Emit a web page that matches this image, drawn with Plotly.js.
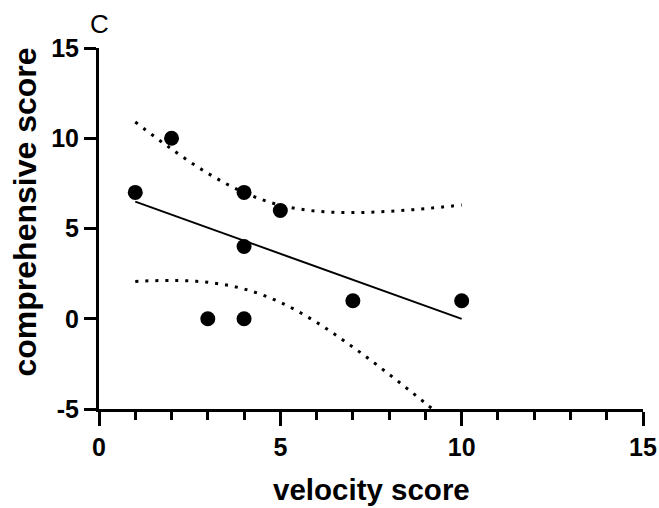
<!DOCTYPE html>
<html>
<head>
<meta charset="utf-8">
<script src="https://cdn.plot.ly/plotly-3.0.1.min.js"></script>
<style>html,body{margin:0;padding:0;background:#fff;}#chart{width:659px;height:508px;}</style>
</head>
<body>
<div id="chart"></div>
<script>
// observed data points
const velocity = [1, 2, 3, 4, 4, 4, 5, 7, 10];
const comprehensive = [7, 10, 0, 7, 4, 0, 6, 1, 1];
// fitted regression line (read endpoints)
const fitX = [1, 10];
const fitY = [6.49, -0.01];
// 95% confidence band, read at integer x
const bandX = [1, 2, 3, 4, 5, 6, 7, 8, 9, 10];
const bandUpper = [10.9, 9.4, 8.06, 6.99, 6.29, 5.96, 5.88, 5.95, 6.1, 6.3];
const bandLower = [2.07, 2.12, 2.02, 1.65, 0.91, -0.2, -1.57, -3.08, -4.68, -6.32];
const xTicks = [0, 5, 10, 15];
const yTicks = [-5, 0, 5, 10, 15];
const panelLabel = 'C';
const xTitle = 'velocity score';
const yTitle = 'comprehensive score';

const font = 'Liberation Sans, Arial, Helvetica, sans-serif';
const dotLine = {color: '#000', width: 3, dash: '3px,7px', shape: 'spline'};

const traces = [
  {x: bandX, y: bandUpper, mode: 'lines', line: dotLine, hoverinfo: 'skip'},
  {x: bandX, y: bandLower, mode: 'lines', line: dotLine, hoverinfo: 'skip'},
  {x: fitX, y: fitY, mode: 'lines', line: {color: '#000', width: 2}},
  {x: velocity, y: comprehensive, mode: 'markers', marker: {color: '#000', size: 15}}
];

const layout = {
  width: 659, height: 508,
  margin: {l: 99, r: 16, t: 48, b: 99},
  paper_bgcolor: '#fff', plot_bgcolor: '#fff',
  showlegend: false,
  font: {family: font, color: '#000'},
  xaxis: {
    range: [0, 15], tickvals: xTicks, ticktext: xTicks.map(String),
    showgrid: false, zeroline: false,
    showline: true, linecolor: '#000', linewidth: 3,
    ticks: 'outside', ticklen: 14, tickwidth: 3, tickcolor: '#000',
    tickfont: {family: font, size: 25, weight: 'bold'},
    minor: {dtick: 1, ticks: 'outside', ticklen: 8, tickwidth: 3, tickcolor: '#000', showgrid: false}
  },
  yaxis: {
    range: [-5, 15], tickvals: yTicks, ticktext: yTicks.map(String),
    showgrid: false, zeroline: false,
    showline: true, linecolor: '#000', linewidth: 3,
    ticks: 'outside', ticklen: 12, tickwidth: 3, tickcolor: '#000',
    tickfont: {family: font, size: 25, weight: 'bold'}
  },
  annotations: [
    {
      text: panelLabel, xref: 'paper', yref: 'paper', x: 0, y: 1,
      xanchor: 'center', yanchor: 'middle', yshift: 24, showarrow: false,
      font: {family: font, size: 26, color: '#000'}
    },
    {
      text: xTitle, xref: 'paper', yref: 'paper', x: 0.5, y: 0,
      xanchor: 'center', yanchor: 'middle', yshift: -80, showarrow: false,
      font: {family: font, size: 29.5, weight: 'bold', color: '#000'}
    },
    {
      text: yTitle, xref: 'paper', yref: 'paper', x: 0, y: 0.5,
      xanchor: 'center', yanchor: 'middle', xshift: -75, yshift: 16, textangle: -90, showarrow: false,
      font: {family: font, size: 32, weight: 'bold', color: '#000'}
    }
  ]
};

Plotly.newPlot('chart', traces, layout, {displayModeBar: false, staticPlot: true});
</script>
</body>
</html>
